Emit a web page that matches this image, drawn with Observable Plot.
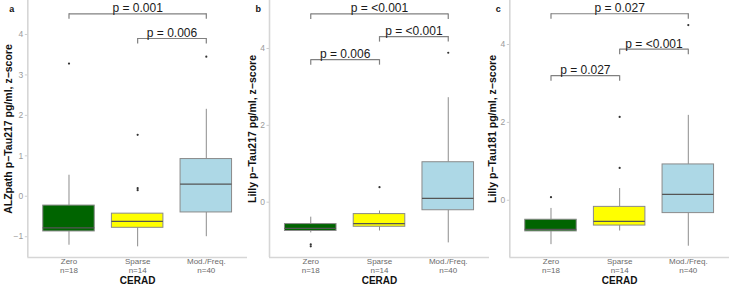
<!DOCTYPE html>
<html><head><meta charset="utf-8">
<script src="https://cdn.jsdelivr.net/npm/d3@7"></script>
<script src="https://cdn.jsdelivr.net/npm/@observablehq/plot@0.6"></script>
<style>
body{margin:0;background:#fff;}
#wrap{position:relative;width:730px;height:285px;overflow:hidden;font-family:"Liberation Sans",Arial,sans-serif;}
#wrap svg{position:absolute;top:0;overflow:visible;background:transparent;}
g[aria-label="y-axis tick label"] text{fill:#9a9a9a;}
g[aria-label="x-axis tick label"] text{fill:#6a6a6a;}
</style></head><body><div id="wrap"></div>
<script>
// ---- shared ----
const categories = ["Zero", "Sparse", "Mod./Freq."];
const counts = ["n=18", "n=14", "n=40"];
const xTitle = "CERAD";

// ---- panel a: ALZpath p-Tau217 ----
const aTitle = "ALZpath p\u2212Tau217 pg/ml, z\u2212score";
const aQ1 = [-0.87, -0.78, -0.40];
const aMedian = [-0.78, -0.62, 0.30];
const aQ3 = [-0.23, -0.43, 0.92];
const aLow = [-1.21, -1.25, -1.00];
const aHigh = [0.52, -0.43, 2.15];
const aOutliers = [[3.28], [0.15, 0.20, 1.52], [3.45]];
const aBrackets = [["Zero", "Mod./Freq.", "p = 0.001", 4.51], ["Sparse", "Mod./Freq.", "p = 0.006", 3.90]];
const aTicks = [-1, 0, 1, 2, 3, 4];
const aDomain = [-1.514, 4.84];

// ---- panel b: Lilly p-Tau217 ----
const bTitle = "Lilly p\u2212Tau217 pg/ml, z\u2212score";
const bQ1 = [-0.75, -0.64, -0.21];
const bMedian = [-0.68, -0.56, 0.10];
const bQ3 = [-0.57, -0.31, 1.04];
const bLow = [-0.80, -0.75, -1.06];
const bHigh = [-0.39, -0.23, 2.72];
const bOutliers = [[-1.10, -1.15], [0.39], [3.89]];
const bBrackets = [["Zero", "Mod./Freq.", "p = <0.001", 4.90], ["Sparse", "Mod./Freq.", "p = <0.001", 4.31], ["Zero", "Sparse", "p = 0.006", 3.71]];
const bTicks = [0, 2, 4];
const bDomain = [-1.44, 5.25];

// ---- panel c: Lilly p-Tau181 ----
const cTitle = "Lilly p\u2212Tau181 pg/ml, z\u2212score";
const cQ1 = [-0.80, -0.65, -0.33];
const cMedian = [-0.75, -0.54, 0.15];
const cQ3 = [-0.50, -0.17, 0.92];
const cLow = [-1.14, -0.79, -1.18];
const cHigh = [-0.21, 0.30, 2.18];
const cOutliers = [[0.08], [0.83, 2.14], [4.50]];
const cBrackets = [["Zero", "Mod./Freq.", "p = 0.027", 4.79], ["Sparse", "Mod./Freq.", "p = <0.001", 3.88], ["Zero", "Sparse", "p = 0.027", 3.20]];
const cTicks = [0, 2, 4];
const cDomain = [-1.47, 5.13];

const boxColors = ["#006400", "#ffff00", "#add8e6"];

function panel(o) {
  const rows = categories.map((c, i) => ({i, q1: o.q1[i], median: o.median[i], q3: o.q3[i], low: o.low[i], high: o.high[i], fill: boxColors[i]}));
  const pts = o.outliers.flatMap((arr, i) => arr.map(v => ({i, v})));
  const br = o.brackets.map(([a, b, label, y]) => ({x1: categories.indexOf(a), x2: categories.indexOf(b), label, y}));
  const tip = (o.domain[1] - o.domain[0]) * 5.5 / 257;
  const tips = br.flatMap(d => [{x: d.x1, y: d.y}, {x: d.x2, y: d.y}]);
  const half = 0.375;
  const xDom = [-0.6, 2.6];
  const ml = o.marginLeft;
  const svg = Plot.plot({
    width: 247, height: 285,
    marginLeft: ml, marginRight: 0, marginTop: 0, marginBottom: 28,
    style: {fontFamily: "Liberation Sans, Arial, sans-serif", background: "transparent", overflow: "visible"},
    x: {type: "linear", domain: xDom},
    y: {domain: o.domain},
    color: {type: "identity"},
    marks: [
      Plot.ruleX([xDom[0]], {stroke: "#d6d6d6", strokeWidth: 1.6}),
      Plot.ruleY([o.domain[0]], {stroke: "#d6d6d6", strokeWidth: 1.6}),
      Plot.axisY({ticks: o.ticks, tickFormat: d => d < 0 ? "\u2212" + Math.abs(d) : String(d), tickSize: 2.5, tickPadding: 2, stroke: "#cfcfcf", fontSize: 8.5, label: null}),
      Plot.axisX({ticks: [0, 1, 2], tickFormat: i => categories[i], tickSize: 0, tickPadding: 1, fontSize: 8, label: null}),
      Plot.axisX({ticks: [0, 1, 2], tickFormat: i => counts[i], tickSize: 0, tickPadding: 9.5, fontSize: 8, label: null}),
      Plot.text([o.title], {text: d => d, frameAnchor: "left", dx: o.titleX - ml, rotate: -90, textAnchor: "middle", lineAnchor: "middle", fontSize: 10.5, fontWeight: "bold", fill: "#111"}),
      Plot.text([xTitle], {text: d => d, frameAnchor: "bottom", dy: 23.5, lineAnchor: "middle", fontSize: 10, fontWeight: "bold", fill: "#111"}),
      Plot.ruleX(rows, {x: "i", y1: "low", y2: "q1", stroke: "#8c8c8c", strokeWidth: 1}),
      Plot.ruleX(rows, {x: "i", y1: "q3", y2: "high", stroke: "#8c8c8c", strokeWidth: 1}),
      Plot.rectY(rows, {x1: d => d.i - half, x2: d => d.i + half, y1: "q1", y2: "q3", fill: "fill", stroke: "#8a8a8a", strokeWidth: 1}),
      Plot.ruleY(rows, {x1: d => d.i - half, x2: d => d.i + half, y: "median", stroke: "#555", strokeWidth: 1.3}),
      Plot.dot(pts, {x: "i", y: "v", r: 1.1, fill: "#333", stroke: null}),
      Plot.link(br, {x1: "x1", x2: "x2", y1: "y", y2: "y", stroke: "#808080", strokeWidth: 1.2}),
      Plot.ruleX(tips, {x: "x", y1: "y", y2: d => d.y - tip, stroke: "#808080", strokeWidth: 1.2}),
      Plot.text(br, {x: d => (d.x1 + d.x2) / 2, y: "y", text: "label", lineAnchor: "bottom", dy: -1.5, fontSize: 12, fill: "#1a1a1a"}),
      Plot.text([o.letter], {text: d => d, frameAnchor: "top-left", dx: o.letterDx, dy: 5, fontSize: 9, fontWeight: "bold", fill: "#111"})
    ]
  });
  svg.style.left = o.left + "px";
  document.getElementById("wrap").appendChild(svg);
}

panel({left: 0, marginLeft: 27.3, titleX: 8, letter: "a", letterDx: -18.5, title: aTitle, q1: aQ1, median: aMedian, q3: aQ3, low: aLow, high: aHigh, outliers: aOutliers, brackets: aBrackets, ticks: aTicks, domain: aDomain});
panel({left: 242, marginLeft: 27, titleX: 10, letter: "b", letterDx: -14, title: bTitle, q1: bQ1, median: bMedian, q3: bQ3, low: bLow, high: bHigh, outliers: bOutliers, brackets: bBrackets, ticks: bTicks, domain: bDomain});
panel({left: 482, marginLeft: 27.3, titleX: 10, letter: "c", letterDx: -14, title: cTitle, q1: cQ1, median: cMedian, q3: cQ3, low: cLow, high: cHigh, outliers: cOutliers, brackets: cBrackets, ticks: cTicks, domain: cDomain});
</script></body></html>
